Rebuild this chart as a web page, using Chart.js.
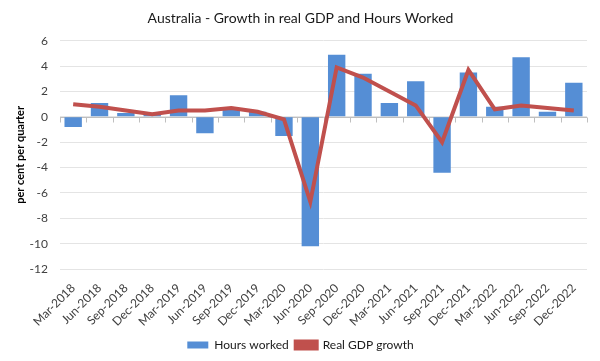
<!DOCTYPE html>
<html>
<head>
<meta charset="utf-8">
<script src="https://cdn.jsdelivr.net/npm/chart.js@4/dist/chart.umd.min.js"></script>
<style>
  html, body { margin: 0; padding: 0; background: #fff; }
  #chart { display: block; }
</style>
</head>
<body>
<canvas id="chart" width="600" height="361"></canvas>
<script>
  /* ── Data (per cent per quarter) ───────────────────────── */
  const quarters = [
    'Mar-2018', 'Jun-2018', 'Sep-2018', 'Dec-2018',
    'Mar-2019', 'Jun-2019', 'Sep-2019', 'Dec-2019',
    'Mar-2020', 'Jun-2020', 'Sep-2020', 'Dec-2020',
    'Mar-2021', 'Jun-2021', 'Sep-2021', 'Dec-2021',
    'Mar-2022', 'Jun-2022', 'Sep-2022', 'Dec-2022'
  ];
  const hoursWorked = [
    -0.8, 1.1, 0.3, 0.15,
     1.7, -1.3, 0.6, 0.4,
    -1.5, -10.2, 4.9, 3.4,
     1.1, 2.8, -4.4, 3.5,
     0.8, 4.7, 0.4, 2.7
  ];
  const realGdpGrowth = [
     1.0, 0.8, 0.5, 0.2,
     0.5, 0.5, 0.7, 0.4,
    -0.2, -6.7, 3.9, 3.1,
     2.0, 0.9, -2.0, 3.7,
     0.6, 0.9, 0.7, 0.5
  ];
  const yTicks = [6, 4, 2, 0, -2, -4, -6, -8, -10, -12];

  const FONT = "Lato, 'Open Sans', 'Liberation Sans', sans-serif";
  Chart.defaults.font.family = FONT;
  Chart.defaults.color = '#404040';

  /* zero line with category tick marks, Excel style */
  const zeroAxis = {
    id: 'zeroAxis',
    beforeDatasetsDraw(chart) {
      const { ctx, chartArea, scales } = chart;
      const y0 = Math.round(scales.y.getPixelForValue(0)) + 0.5;
      const x = scales.x;
      ctx.save();
      ctx.strokeStyle = '#bfbfbf';
      ctx.lineWidth = 1;
      ctx.beginPath();
      ctx.moveTo(chartArea.left, y0);
      ctx.lineTo(chartArea.right, y0);
      const step = (chartArea.right - chartArea.left) / quarters.length;
      for (let i = 0; i <= quarters.length; i++) {
        const px = Math.round(x.getPixelForValue(i) - step / 2) + 0.5;
        ctx.moveTo(px, y0);
        ctx.lineTo(px, y0 + 5);
      }
      ctx.stroke();
      ctx.restore();
    }
  };

  new Chart(document.getElementById('chart'), {
    data: {
      labels: quarters,
      datasets: [
        {
          type: 'line',
          label: 'Real GDP growth',
          data: realGdpGrowth,
          borderColor: '#C0504D',
          backgroundColor: '#C0504D',
          borderWidth: 4,
          pointRadius: 0,
          tension: 0,
          order: 0
        },
        {
          type: 'bar',
          label: 'Hours worked',
          data: hoursWorked,
          backgroundColor: '#558ED5',
          borderWidth: 0,
          categoryPercentage: 1,
          barPercentage: 0.66,
          order: 1
        }
      ]
    },
    options: {
      responsive: false,
      animation: false,
      layout: { padding: { left: 14, right: 13, top: 4, bottom: 0 } },
      plugins: {
        title: {
          display: true,
          text: 'Australia - Growth in real GDP and Hours Worked',
          color: '#1a1a1a',
          font: { size: 14, weight: 'normal' },
          padding: { top: 6, bottom: 14 }
        },
        legend: {
          position: 'bottom',
          reverse: true,
          labels: {
            boxWidth: 21,
            boxHeight: 7,
            color: '#1a1a1a',
            font: { size: 12 },
            padding: 7
          }
        },
        tooltip: { enabled: false }
      },
      scales: {
        x: {
          grid: { display: false },
          border: { display: false },
          afterFit: s => { s.height = 63; },
          ticks: {
            minRotation: 45,
            maxRotation: 45,
            autoSkip: false,
            color: '#404040',
            font: { size: 12 },
            padding: 4
          }
        },
        y: {
          min: -12,
          max: 6,
          afterBuildTicks: s => { s.ticks = yTicks.map(v => ({ value: v })); },
          afterFit: s => { s.width = 46; },
          grid: { color: '#e4e4e4', drawTicks: false },
          border: { display: false },
          ticks: { color: '#404040', font: { size: 12 }, padding: 12 },
          title: {
            display: true,
            text: 'per cent per quarter',
            color: '#000',
            font: { size: 11, weight: 'bold' },
            padding: { top: 0, bottom: 2 }
          }
        }
      }
    },
    plugins: [zeroAxis]
  });
</script>
</body>
</html>
